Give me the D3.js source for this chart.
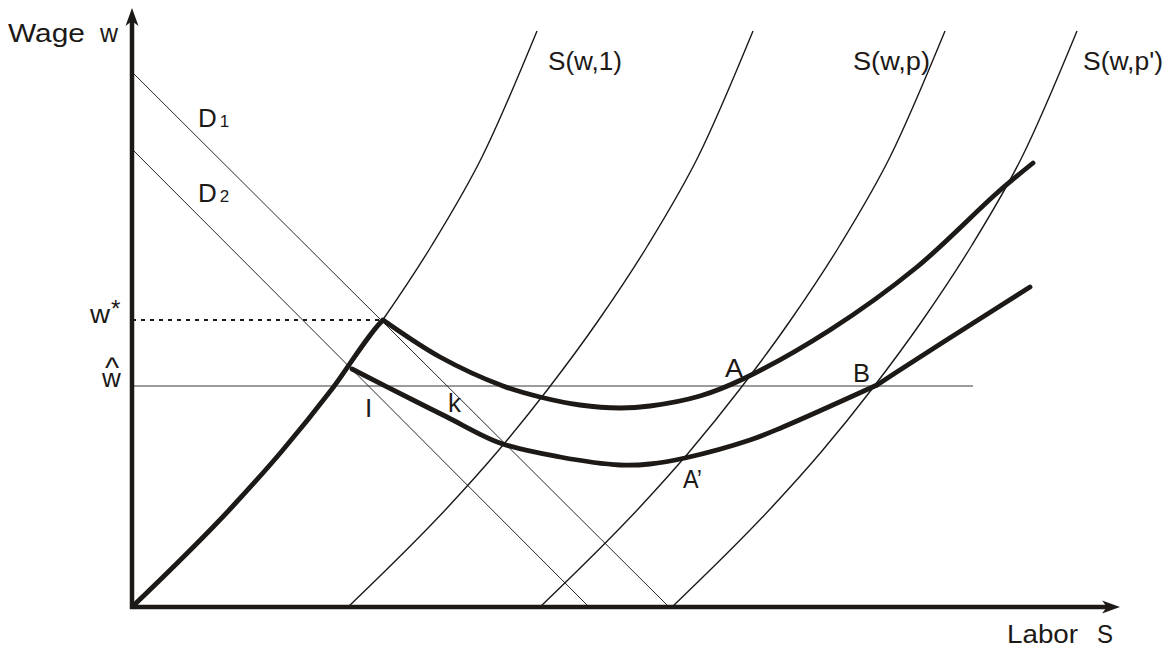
<!DOCTYPE html>
<html>
<head>
<meta charset="utf-8">
<script src="https://cdn.jsdelivr.net/npm/d3@7"></script>
<style>
  html, body { margin: 0; padding: 0; background: #fff; }
  svg text { font-family: "Liberation Sans", Arial, sans-serif; fill: #1c1917; }
</style>
</head>
<body>
<div id="app"></div>
<script>
// chart values (labor units on x, wage units on y)
var supplyShape = [[0, 0], [10, 10], [15, 15.6], [20, 21.8], [25, 28.6], [30, 36.2], [35, 45], [40.5, 57.6]];
var supplyShifts = [0, 21.6, 40.8, 54.0];
var demandD1 = [[0, 53.5], [53.7, 0]];
var demandD2 = [[0, 45.8], [45.7, 0]];
var wStar = 28.7;
var wHat = 22.1;
var wHatEnd = 84.1;
var kinkUpper = [25.1, 28.7];
var kinkLower = [22.0, 23.8];
var upperCurve = [[25.1, 28.7], [30.8, 25.0], [37.1, 22.1], [40.8, 21.0], [44.8, 20.2], [48.8, 19.9], [51.8, 20.1],
  [56.8, 21.1], [61.1, 22.8], [69.8, 27.7], [78.5, 34.0], [86.5, 41.4], [90.1, 44.4]];
var lowerCurve = [[22.0, 23.8], [28.1, 20.7], [31.5, 19.0], [36.8, 16.4], [42.8, 15.0], [48.8, 14.2], [51.8, 14.3],
  [55.3, 14.9], [61.8, 16.7], [65.1, 18.0], [74.5, 22.2]];
var lowerTail = [[74.5, 22.2], [77.1, 23.9], [83.5, 28.0], [89.8, 32.0]];

var width = 1165, height = 649;
var ink = "#1c1917";
var thick = 4.8;

var svg = d3.select("#app").append("svg").attr("width", width).attr("height", height);
var x = d3.scaleLinear().domain([0, 100]).range([132, 1132]);
var y = d3.scaleLinear().domain([0, 60]).range([607, 7]);

var line = d3.line().x(function (d) { return x(d[0]); }).y(function (d) { return y(d[1]); });
var smooth = d3.line().x(function (d) { return x(d[0]); }).y(function (d) { return y(d[1]); }).curve(d3.curveMonotoneX);
var smoothCR = d3.line().x(function (d) { return x(d[0]); }).y(function (d) { return y(d[1]); }).curve(d3.curveCatmullRom);

// w-hat line
svg.append("path").datum([[0, wHat], [wHatEnd, wHat]]).attr("d", line)
  .attr("fill", "none").attr("stroke", "#7a7a7a").attr("stroke-width", 1.6);

// demand lines
[demandD1, demandD2].forEach(function (d) {
  svg.append("path").datum(d).attr("d", line)
    .attr("fill", "none").attr("stroke", "#2a2a2a").attr("stroke-width", 1);
});

// supply curves
supplyShifts.forEach(function (s) {
  var pts = supplyShape.map(function (p) { return [p[0] + s, p[1]]; });
  svg.append("path").datum(pts).attr("d", smooth)
    .attr("fill", "none").attr("stroke", ink).attr("stroke-width", 1.4);
});

// dotted w* line
svg.append("path").datum([[0, wStar], kinkUpper]).attr("d", line)
  .attr("fill", "none").attr("stroke", ink).attr("stroke-width", 2)
  .attr("stroke-dasharray", "4,5");

// thick segment along S(w,1) up to the kink
var thickS1 = supplyShape.filter(function (p) { return p[1] < kinkUpper[1]; }).concat([kinkUpper]);
svg.append("path").datum(thickS1).attr("d", smooth)
  .attr("fill", "none").attr("stroke", ink).attr("stroke-width", thick).attr("stroke-linejoin", "round");

// thick curves
[upperCurve, lowerCurve, lowerTail].forEach(function (c) {
  svg.append("path").datum(c).attr("d", smoothCR)
    .attr("fill", "none").attr("stroke", ink).attr("stroke-width", thick).attr("stroke-linecap", "round");
});

// axes
var x0 = x(0), y0 = y(0);
var yTip = y(59.9), xTip = x(98.8);
svg.append("line").attr("x1", x0).attr("y1", y0 + 2).attr("x2", x0).attr("y2", yTip + 10)
  .attr("stroke", ink).attr("stroke-width", 4.5);
svg.append("line").attr("x1", x0 - 2).attr("y1", y0).attr("x2", xTip - 10).attr("y2", y0)
  .attr("stroke", ink).attr("stroke-width", 4.5);
svg.append("path")
  .attr("d", "M" + x0 + "," + yTip + "L" + (x0 - 6.5) + "," + (yTip + 18) + "L" + x0 + "," + (yTip + 13) +
    "L" + (x0 + 6.5) + "," + (yTip + 18) + "Z")
  .attr("fill", ink);
svg.append("path")
  .attr("d", "M" + xTip + "," + y0 + "L" + (xTip - 18) + "," + (y0 - 6.5) + "L" + (xTip - 13) + "," + y0 +
    "L" + (xTip - 18) + "," + (y0 + 6.5) + "Z")
  .attr("fill", ink);

// labels: [text, x, y, width or null, font size]
var labels = [
  ["Wage", -12.4, 56.5, 77, 26],
  ["w", -3.2, 56.5, 18, 26],
  ["S(w,1)", 41.6, 53.7, 74, 26],
  ["S(w,p)", 72.1, 53.7, 77, 26],
  ["S(w,p')", 95.1, 53.7, 80, 26],
  ["Labor", 87.5, -3.6, 71, 26],
  ["S", 96.5, -3.6, 16, 26],
  ["w", -4.2, 28.4, 20, 26],
  ["*", -2.1, 29.0, null, 24],
  ["I", 23.3, 19.0, null, 26],
  ["k", 31.6, 19.5, null, 26],
  ["A", 59.3, 23.0, 18, 26],
  ["B", 72.1, 22.5, 17, 26],
  ["A\u2019", 55.1, 11.9, 19, 26]
];
labels.forEach(function (l) {
  var t = svg.append("text").attr("x", x(l[1])).attr("y", y(l[2]))
    .attr("font-size", l[4]).text(l[0]);
  if (l[3]) t.attr("textLength", l[3]).attr("lengthAdjust", "spacingAndGlyphs");
});

// w-hat: caret placed above the w inside one text element
var hat = svg.append("text").attr("font-size", 26);
hat.append("tspan").attr("x", x(-3.0)).attr("y", y(22.0)).text("w");
hat.append("tspan").attr("x", x(-2.7)).attr("y", y(22.9)).attr("font-size", 30).text("^");

// demand labels with subscripts
[["D", "1", 6.6, 48.0], ["D", "2", 6.6, 40.5]].forEach(function (l) {
  var t = svg.append("text").attr("x", x(l[2])).attr("y", y(l[3])).attr("font-size", 26);
  t.append("tspan").text(l[0]);
  t.append("tspan").attr("font-size", 17).attr("dx", 3).text(l[1]);
});
</script>
</body>
</html>
